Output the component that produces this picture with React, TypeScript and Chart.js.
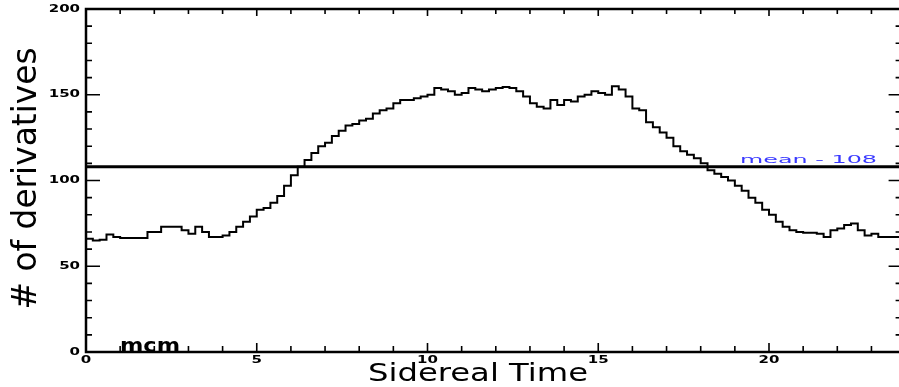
import React, { useEffect, useRef } from "react";
import { Chart, registerables } from "chart.js";

Chart.register(...registerables);

// ---- data ----
const BIN_HOURS = 0.2;
const X_MIN = 0;
const X_MAX = 24;
const Y_MIN = 0;
const Y_MAX = 200;
const MEAN = 108;

// number of derivatives per 0.2 h sidereal-time bin
const counts = [
  67, 66, 65, 65.5, 68.5, 67, 66.5, 66.5, 66.5, 66.5,
  70, 70, 73, 73, 73, 71, 69, 73, 70, 67,
  67, 68, 70, 73, 76, 79, 83, 84, 87, 91,
  97, 103, 108, 112, 116, 120, 122, 126, 129, 132,
  133, 135, 136, 139, 141, 142, 145, 147, 147, 148,
  149, 150, 154, 153, 152, 150, 151, 154, 153, 152,
  153, 154, 154.5, 154, 152, 149, 145, 143, 142, 147,
  144, 147, 146, 149, 150, 152, 151, 150, 155, 153,
  149, 142, 141, 134, 131, 128, 125, 120, 117, 115,
  113, 110, 106, 104, 102, 100, 97, 94, 90, 87,
  83, 80, 76, 73, 71, 70, 69.5, 69.5, 69, 67,
  71, 72, 74, 75, 71, 68, 69, 67, 67, 67,
];

const X_TICK_LABELS = ["0", "5", "10", "15", "20"];
const X_TICK_VALUES = [0, 5, 10, 15, 20];
const Y_TICK_LABELS = ["0", "50", "100", "150", "200"];
const Y_TICK_VALUES = [0, 50, 100, 150, 200];

const X_TITLE = "Sidereal Time";
const Y_TITLE = "# of derivatives";
const MEAN_LABEL = "mean - 108";
const SIGNATURE = "mcm";

const FONT = "'DejaVu Sans', sans-serif";

function drawFitted(
  ctx: CanvasRenderingContext2D,
  text: string,
  x: number,
  y: number,
  font: string,
  width: number,
  align: CanvasTextAlign,
  color: string,
  rotate = 0
) {
  ctx.save();
  ctx.font = font;
  const w = ctx.measureText(text).width;
  ctx.translate(x, y);
  if (rotate) ctx.rotate(rotate);
  ctx.scale(width / w, 1);
  ctx.textAlign = align;
  ctx.textBaseline = "alphabetic";
  ctx.fillStyle = color;
  ctx.fillText(text, 0, 0);
  ctx.restore();
}

function drawScaled(
  ctx: CanvasRenderingContext2D,
  text: string,
  x: number,
  y: number,
  font: string,
  sx: number,
  align: CanvasTextAlign,
  baseline: CanvasTextBaseline,
  color: string
) {
  ctx.save();
  ctx.font = font;
  ctx.translate(x, y);
  ctx.scale(sx, 1);
  ctx.textAlign = align;
  ctx.textBaseline = baseline;
  ctx.fillStyle = color;
  ctx.fillText(text, 0, 0);
  ctx.restore();
}

const decorPlugin = {
  id: "decor",
  afterDatasetsDraw(chart: any) {
    const ctx: CanvasRenderingContext2D = chart.ctx;
    const { left, right, top, bottom } = chart.chartArea;
    const xs = chart.scales.x;
    const ys = chart.scales.y;
    ctx.save();
    ctx.strokeStyle = "#000";
    // frame
    ctx.lineWidth = 2.5;
    ctx.strokeRect(left, top, right - left, bottom - top);

    // x ticks (every hour, major every 5)
    ctx.lineWidth = 1.6;
    ctx.beginPath();
    for (let v = X_MIN; v <= X_MAX; v += 1) {
      const px = xs.getPixelForValue(v);
      const major = v % 5 === 0;
      ctx.moveTo(px, bottom);
      ctx.lineTo(px, bottom - (major ? 9 : 6));
      ctx.moveTo(px, top);
      ctx.lineTo(px, top + (major ? 7 : 5));
    }
    // y ticks (every 10, major every 50)
    for (let v = Y_MIN; v <= Y_MAX; v += 10) {
      const py = ys.getPixelForValue(v);
      const major = v % 50 === 0;
      ctx.moveTo(left, py);
      ctx.lineTo(left + (major ? 14 : 6), py);
      ctx.moveTo(right, py);
      ctx.lineTo(right - (major ? 17 : 10), py);
    }
    ctx.stroke();

    // tick labels
    const tickFont = `bold 10px ${FONT}`;
    X_TICK_VALUES.forEach((v, i) => {
      drawScaled(ctx, X_TICK_LABELS[i], xs.getPixelForValue(v), bottom + 8.5, tickFont, 1.5, "center", "middle", "#000");
    });
    Y_TICK_VALUES.forEach((v, i) => {
      drawScaled(ctx, Y_TICK_LABELS[i], left - 6, ys.getPixelForValue(v), tickFont, 1.5, "right", "middle", "#000");
    });

    // axis titles
    drawFitted(ctx, X_TITLE, 478, 381, `25px ${FONT}`, 220, "center", "#000");
    drawFitted(ctx, Y_TITLE, 36, 178.5, `34px ${FONT}`, 262, "center", "#000", -Math.PI / 2);

    // mean label
    drawFitted(ctx, MEAN_LABEL, 740, ys.getPixelForValue(MEAN) - 4, `11px ${FONT}`, 137, "left", "#3a3aff");

    // signature
    drawFitted(ctx, SIGNATURE, 120, bottom, `bold 20px ${FONT}`, 60, "left", "#000");
    ctx.restore();
  },
};

export default function App() {
  const ref = useRef<HTMLCanvasElement>(null);
  useEffect(() => {
    const canvas = ref.current;
    if (!canvas) return;
    const stepData = counts.map((v, i) => ({ x: i * BIN_HOURS, y: v }));
    stepData.push({ x: X_MAX, y: counts[counts.length - 1] });
    const chart = new Chart(canvas, {
      type: "line",
      data: {
        datasets: [
          {
            data: stepData,
            stepped: "after",
            borderColor: "#000",
            borderWidth: 2,
            pointRadius: 0,
            fill: false,
          },
          {
            data: [
              { x: X_MIN, y: MEAN },
              { x: X_MAX, y: MEAN },
            ],
            borderColor: "#000",
            borderWidth: 3,
            pointRadius: 0,
            fill: false,
          },
        ],
      },
      options: {
        animation: false,
        responsive: false,
        devicePixelRatio: 1,
        layout: { padding: { left: 86, top: 9, right: 14.4, bottom: 35 } },
        scales: {
          x: { type: "linear", min: X_MIN, max: X_MAX, display: false },
          y: { type: "linear", min: Y_MIN, max: Y_MAX, display: false },
        },
        plugins: { legend: { display: false }, tooltip: { enabled: false } },
      },
      plugins: [decorPlugin],
    } as any);
    return () => chart.destroy();
  }, []);
  return (
    <div style={{ position: "fixed", left: 0, top: 0, width: 920, height: 387, background: "#fff" }}>
      <canvas ref={ref} width={920} height={387} style={{ display: "block" }} />
    </div>
  );
}
